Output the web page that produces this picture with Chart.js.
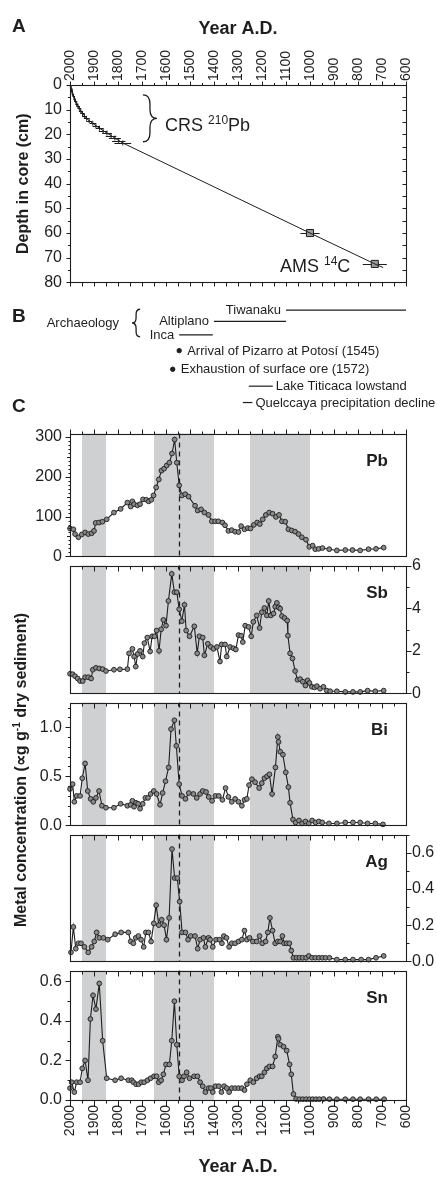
<!DOCTYPE html>
<html>
<head>
<meta charset="utf-8">
<script src="https://cdn.jsdelivr.net/npm/chart.js@4.4.1/dist/chart.umd.min.js"></script>
<style>
html,body{margin:0;padding:0;background:#fff}
body{position:relative;width:437px;height:1178px;overflow:hidden;font-family:'Liberation Sans',Arial,Helvetica,sans-serif;color:#1e1e1e}
canvas{position:absolute;left:0}
.letter{position:absolute;left:12px;font-weight:bold;font-size:19px;line-height:19px}
#ytitle{position:absolute;left:-154px;top:760px;width:350px;height:20px;line-height:20px;text-align:center;font-weight:bold;font-size:16px;transform:rotate(-90deg);white-space:nowrap}
#ytitle sup{font-size:10px;line-height:0;vertical-align:6px}
</style>
</head>
<body>
<canvas id="cA" width="437" height="300" style="top:0px"></canvas>
<canvas id="cB" width="437" height="120" style="top:296px"></canvas>
<canvas id="cPb" width="437" height="158" style="top:416px"></canvas>
<canvas id="cSb" width="437" height="159" style="top:550px"></canvas>
<canvas id="cBi" width="437" height="158" style="top:685px"></canvas>
<canvas id="cAg" width="437" height="158" style="top:819px"></canvas>
<canvas id="cSn" width="437" height="225" style="top:953px"></canvas>
<div class="letter" style="top:16px">A</div>
<div class="letter" style="top:306px">B</div>
<div class="letter" style="top:396px">C</div>
<div id="ytitle">Metal concentration (∝g g<sup>-1</sup> dry sediment)</div>
<script>
// ================= DATA =================
const yearTicks = [2000,1900,1800,1700,1600,1500,1400,1300,1200,1100,1000,900,800,700,600];
const depthTicks = [0,10,20,30,40,50,60,70,80];
const pbTicks = [0,100,200,300];
const sbTicks = [0,2,4,6];
const biTicks = [0,0.5,1.0];
const agTicks = [0,0.2,0.4,0.6];
const snTicks = [0,0.2,0.4,0.6];

// Panel A: age model
const pb210Depth = [0.5,1.5,2.5,3.5,4.5,5.5,6.5,7.5,8.5,9.5,10.5,11.5,12.5,13.5,14.5,15.5,16.5,17.5,18.5,19.5,20.5,21.5,22.5,23.5];
const pb210Year  = [1998,1995,1992,1989,1985,1981,1977,1972,1967,1961,1955,1948,1940,1931,1920,1905,1892,1877,1862,1846,1829,1813,1797,1780];
const pb210Err   = [3,3,4,4,5,5,6,6,7,7,8,9,10,11,12,13,14,16,18,20,22,25,28,35];
const c14Depth = [60,72.5];
const c14Year  = [1000,730];
const c14Err   = [40,50];
const modelTailYear  = [695];
const modelTailDepth = [74];

// Panel B
const periodNames = ['Tiwanaku','Altiplano','Inca'];
const periodStart = [1100,1400,1545];
const periodEnd   = [600,1100,1405];
const periodRow   = [0,1,2.2];
const eventNames = ['Arrival of Pizarro at Potosí (1545)','Exhaustion of surface ore (1572)'];
const eventYears = [1545,1572];
const eventRow   = [3.6,5.25];
const climateNames = ['Lake Titicaca lowstand','Quelccaya precipitation decline'];
const climateStart = [1255,1280];
const climateEnd   = [1155,1240];
const climateRow   = [6.75,8.2];

// Panel C
const bandStart = [1950,1650,1250];
const bandEnd   = [1850,1400,1000];
const pizarroYear = 1545;

const pbYears = [2000,1986,1979,1965,1951,1937,1924,1910,1900,1893,1879,1865,1847,1817,1789,1761,1747,1740,1733,1719,1708,1696,1682,1672,1661,1652,1641,1630,1619,1608,1597,1586,1575,1564,1555,1545,1534,1520,1506,1479,1468,1454,1440,1423,1409,1395,1382,1365,1354,1340,1326,1312,1298,1287,1273,1259,1248,1234,1220,1209,1197,1184,1170,1156,1142,1129,1117,1103,1090,1076,1062,1048,1034,1017,1003,989,978,964,948,920,888,853,823,791,756,725,693];
const pbValues = [70,68,56,48,55,60,56,58,64,84,85,87,93,110,119,135,125,138,131,128,131,143,142,138,142,153,173,193,215,220,228,235,258,293,235,178,153,156,150,127,115,118,110,104,88,88,88,85,78,64,66,62,61,76,68,71,70,79,85,81,93,104,110,107,99,104,88,87,68,65,62,56,48,42,24,27,18,19,21,18,15,16,16,15,18,19,22];

const sbYears = [2000,1989,1979,1968,1958,1947,1937,1924,1912,1905,1892,1878,1864,1850,1817,1792,1761,1754,1740,1733,1726,1718,1708,1697,1690,1678,1666,1658,1648,1639,1629,1620,1611,1600,1590,1576,1565,1555,1545,1534,1523,1516,1502,1482,1470,1461,1447,1440,1426,1413,1402,1388,1375,1368,1354,1347,1333,1319,1309,1298,1287,1280,1270,1256,1245,1236,1222,1210,1201,1190,1180,1172,1163,1152,1145,1138,1131,1124,1117,1106,1095,1092,1083,1073,1062,1052,1041,1030,1019,1010,1002,992,981,971,958,944,930,916,888,853,821,791,760,728,693];
const sbValues = [0.92,0.90,0.81,0.70,0.58,0.58,0.76,0.76,0.70,1.11,1.20,1.17,1.14,1.05,1.11,1.13,1.14,1.88,2.09,1.73,1.26,1.85,2.00,1.73,2.36,2.62,1.97,2.68,2.68,2.95,2.00,3.01,3.45,3.18,4.34,5.61,4.75,4.75,3.95,3.39,4.16,2.95,2.68,3.15,1.88,2.68,2.62,1.79,2.33,2.18,2.09,2.18,1.50,2.30,2.30,1.73,2.18,2.12,2.06,2.74,2.71,2.41,3.18,3.12,2.68,3.36,3.66,3.07,3.81,4.01,3.66,4.34,3.66,3.75,4.07,4.25,4.04,3.98,3.63,3.54,3.42,2.71,1.88,1.64,1.05,0.64,0.67,0.55,0.37,0.61,0.49,0.31,0.28,0.34,0.22,0.31,0.13,0.10,0.10,0.07,0.07,0.07,0.13,0.10,0.13];

const biYears = [2000,1989,1982,1972,1958,1949,1937,1926,1914,1903,1892,1879,1867,1850,1817,1789,1761,1747,1740,1733,1725,1716,1708,1697,1686,1675,1664,1651,1639,1625,1614,1602,1589,1579,1565,1557,1545,1533,1519,1505,1486,1472,1458,1447,1433,1422,1408,1394,1380,1365,1352,1340,1326,1312,1298,1284,1273,1263,1254,1242,1229,1212,1201,1190,1179,1169,1158,1144,1134,1131,1124,1113,1101,1090,1083,1071,1060,1046,1033,1019,1005,991,977,963,949,921,888,853,821,791,760,728,696];
const biValues = [0.37,0.42,0.24,0.30,0.30,0.48,0.63,0.35,0.27,0.24,0.28,0.35,0.20,0.18,0.18,0.22,0.20,0.21,0.25,0.19,0.23,0.22,0.17,0.22,0.28,0.28,0.32,0.35,0.32,0.21,0.33,0.45,0.59,0.98,1.07,0.81,0.42,0.30,0.27,0.33,0.32,0.28,0.32,0.35,0.34,0.29,0.25,0.30,0.30,0.26,0.38,0.29,0.24,0.27,0.24,0.20,0.26,0.27,0.41,0.47,0.44,0.38,0.43,0.48,0.50,0.52,0.32,0.59,0.90,0.85,0.75,0.72,0.54,0.39,0.23,0.06,0.03,0.05,0.02,0.04,0.02,0.05,0.03,0.04,0.03,0.02,0.02,0.03,0.03,0.03,0.02,0.02,0.01];

const agYears = [1996,1986,1976,1965,1954,1940,1924,1910,1899,1889,1878,1861,1843,1812,1787,1757,1747,1736,1726,1715,1704,1693,1684,1673,1662,1651,1641,1630,1618,1608,1598,1587,1575,1564,1553,1543,1533,1519,1508,1497,1479,1468,1458,1444,1436,1423,1416,1405,1391,1377,1367,1359,1348,1337,1326,1312,1298,1284,1273,1263,1252,1238,1222,1210,1199,1185,1176,1167,1156,1145,1134,1124,1115,1108,1097,1086,1078,1069,1056,1044,1031,1016,1005,992,978,963,949,935,919,888,853,821,787,756,725,693];
const agValues = [0.05,0.19,0.07,0.10,0.10,0.08,0.05,0.08,0.11,0.16,0.13,0.13,0.12,0.15,0.16,0.16,0.11,0.10,0.13,0.14,0.12,0.08,0.16,0.16,0.11,0.21,0.31,0.20,0.23,0.20,0.12,0.24,0.62,0.46,0.46,0.33,0.16,0.16,0.12,0.14,0.14,0.07,0.12,0.13,0.08,0.13,0.12,0.08,0.12,0.12,0.10,0.14,0.13,0.08,0.10,0.10,0.11,0.12,0.17,0.12,0.13,0.11,0.11,0.14,0.10,0.11,0.16,0.24,0.17,0.10,0.11,0.11,0.14,0.10,0.10,0.10,0.06,0.02,0.02,0.02,0.02,0.02,0.03,0.02,0.02,0.02,0.02,0.02,0.02,0.01,0.01,0.01,0.01,0.01,0.02,0.03];

const snYears = [2000,1993,1982,1972,1958,1949,1937,1925,1915,1904,1892,1878,1864,1847,1812,1787,1757,1743,1736,1725,1714,1703,1691,1677,1664,1650,1639,1630,1620,1611,1600,1586,1576,1565,1555,1545,1533,1525,1514,1502,1483,1469,1458,1447,1436,1423,1413,1405,1394,1380,1369,1358,1347,1337,1326,1312,1298,1284,1273,1263,1249,1236,1222,1210,1201,1190,1180,1169,1156,1145,1134,1131,1124,1110,1097,1085,1078,1069,1058,1044,1030,1016,1002,989,975,961,944,919,888,853,821,791,756,724,691];
const snValues = [0.06,0.09,0.04,0.09,0.09,0.16,0.20,0.10,0.41,0.53,0.46,0.59,0.30,0.11,0.10,0.11,0.10,0.10,0.09,0.08,0.08,0.09,0.09,0.10,0.11,0.12,0.12,0.09,0.10,0.13,0.18,0.18,0.30,0.50,0.28,0.12,0.10,0.12,0.14,0.11,0.12,0.12,0.09,0.07,0.04,0.06,0.06,0.04,0.07,0.07,0.04,0.07,0.06,0.04,0.06,0.06,0.06,0.06,0.05,0.08,0.10,0.09,0.11,0.12,0.12,0.14,0.16,0.17,0.17,0.22,0.32,0.31,0.28,0.27,0.25,0.18,0.13,0.03,0.005,0.004,0.004,0.004,0.004,0.004,0.004,0.004,0.005,0.004,0.004,0.004,0.004,0.004,0.004,0.004,0.004];

// ================= RENDERING =================
const INK = '#1e1e1e';
const FONT = "'Liberation Sans', Arial, Helvetica, sans-serif";
Chart.defaults.font.family = FONT;
Chart.defaults.color = INK;

const DECOR = {};
function xy(xs, ys){ return xs.map((x,i)=>({x:x, y:ys[i]})); }
function setTicks(arr){ return s => { s.ticks = arr.map(v=>({value:v})); }; }

function drawTicks(ctx, chart, t){
  const a = chart.chartArea, sc = chart.scales[t.scale];
  const minStep = Math.min(...t.levels.map(l=>l[0]));
  const lo = Math.min(sc.min, sc.max), hi = Math.max(sc.min, sc.max);
  const sgn = t.dir === 'out' ? 1 : -1;
  ctx.beginPath();
  for (let k = Math.ceil(lo/minStep - 1e-9); k*minStep <= hi + 1e-9; k++){
    const v = k*minStep; let L = 0;
    t.levels.forEach(([s,l]) => { const r = v/s; if (Math.abs(r-Math.round(r))<1e-6) L = Math.max(L,l); });
    if (!L) continue;
    const p = Math.round(sc.getPixelForValue(v)) + 0.5;
    if (t.edge==='top'){ const y=Math.round(a.top)+0.5; ctx.moveTo(p,y); ctx.lineTo(p,y - sgn*L); }
    else if (t.edge==='bottom'){ const y=Math.round(a.bottom)+0.5; ctx.moveTo(p,y); ctx.lineTo(p,y + sgn*L); }
    else if (t.edge==='left'){ const x=Math.round(a.left)+0.5; ctx.moveTo(x,p); ctx.lineTo(x - sgn*L,p); }
    else { const x=Math.round(a.right)+0.5; ctx.moveTo(x,p); ctx.lineTo(x + sgn*L,p); }
  }
  ctx.stroke();
}
function brace(ctx, xb, y1, y2, w){
  const m=(y1+y2)/2, h=w/2, r=Math.min(Math.abs(h)*1.3,(y2-y1)/4);
  ctx.beginPath(); ctx.moveTo(xb,y1);
  ctx.quadraticCurveTo(xb+h,y1,xb+h,y1+r); ctx.lineTo(xb+h,m-r);
  ctx.quadraticCurveTo(xb+h,m,xb+w,m); ctx.quadraticCurveTo(xb+h,m,xb+h,m+r);
  ctx.lineTo(xb+h,y2-r); ctx.quadraticCurveTo(xb+h,y2,xb,y2); ctx.stroke();
}

const decorPlugin = {
  id:'decor',
  beforeDatasetsDraw(chart){
    const o = DECOR[chart.canvas.id]; if (!o) return;
    const {ctx, chartArea:a, scales} = chart; const xs = scales.x;
    ctx.save();
    if (o.bands){
      ctx.fillStyle = '#cfd0d2';
      o.bands.start.forEach((s,i)=>{ const x1=xs.getPixelForValue(s), x2=xs.getPixelForValue(o.bands.end[i]); ctx.fillRect(Math.min(x1,x2), a.top, Math.abs(x2-x1), a.bottom-a.top); });
    }
    if (o.vline != null){
      const x = Math.round(xs.getPixelForValue(o.vline))+0.5;
      ctx.strokeStyle = INK; ctx.lineWidth = 1.3; ctx.setLineDash([5,4]);
      ctx.beginPath(); ctx.moveTo(x,a.top); ctx.lineTo(x,a.bottom); ctx.stroke(); ctx.setLineDash([]);
    }
    chart.data.datasets.forEach((ds,i)=>{
      if (!ds.xErr) return;
      const meta = chart.getDatasetMeta(i);
      ctx.strokeStyle = INK; ctx.lineWidth = 1;
      ds.xErr.forEach((e,j)=>{
        const raw = ds.data[j], pt = meta.data[j];
        const x1 = xs.getPixelForValue(raw.x+e), x2 = xs.getPixelForValue(raw.x-e);
        const y = Math.round(pt.y)+0.5;
        ctx.beginPath(); ctx.moveTo(x1,y); ctx.lineTo(x2,y); ctx.stroke();
      });
    });
    ctx.restore();
  },
  afterDatasetsDraw(chart){
    const o = DECOR[chart.canvas.id]; if (!o) return;
    const {ctx, chartArea:a, scales} = chart; const xs = scales.x, ys = scales.y;
    ctx.save();
    ctx.strokeStyle = INK; ctx.fillStyle = INK; ctx.lineWidth = 1.1;
    if (o.frame){
      const l=Math.round(a.left)+0.5, t=Math.round(a.top)+0.5;
      ctx.strokeRect(l, t, Math.round(a.right)-Math.round(a.left), Math.round(a.bottom)-Math.round(a.top));
    }
    ctx.lineWidth = 1;
    (o.ticks||[]).forEach(t=>drawTicks(ctx, chart, t));
    if (o.topLabels){
      ctx.font = '14px '+FONT; ctx.textAlign='left'; ctx.textBaseline='middle';
      o.topLabels.forEach(v=>{
        ctx.save(); ctx.translate(xs.getPixelForValue(v), a.top-4); ctx.rotate(-Math.PI/2);
        ctx.fillText(String(v), 0, 0); ctx.restore();
      });
    }
    if (o.label){
      ctx.font = 'bold 17px ' + FONT; ctx.textAlign='right'; ctx.textBaseline='alphabetic';
      ctx.fillText(o.label, a.right-18, a.top+32);
    }
    (o.braces||[]).forEach(b=>{ ctx.lineWidth=1.3; brace(ctx, xs.getPixelForValue(b.x), ys.getPixelForValue(b.y1), ys.getPixelForValue(b.y2), b.w); });
    (o.texts||[]).forEach(t=>{
      ctx.font = t.size+'px '+FONT; ctx.textAlign=t.align||'left'; ctx.textBaseline='alphabetic';
      ctx.fillText(t.text, xs.getPixelForValue(t.x), ys.getPixelForValue(t.y));
    });
    (o.rich||[]).forEach(r=>{
      let cx = xs.getPixelForValue(r.x); const y = ys.getPixelForValue(r.y);
      ctx.textAlign='left'; ctx.textBaseline='alphabetic';
      r.parts.forEach(([t,size,rise])=>{ ctx.font = size+'px '+FONT; ctx.fillText(t, cx, y-(rise||0)); cx += ctx.measureText(t).width; });
    });
    chart.data.datasets.forEach((ds,i)=>{
      if (!ds.labelText) return;
      const pts = chart.getDatasetMeta(i).data; const px = pts.map(p=>p.x);
      ctx.font = '13px '+FONT; ctx.textBaseline='alphabetic';
      if (ds.labelSide==='before'){ ctx.textAlign='right'; ctx.fillText(ds.labelText, Math.min(...px)-ds.labelGap, pts[0].y+4); }
      else { ctx.textAlign='left'; ctx.fillText(ds.labelText, Math.max(...px)+ds.labelGap, pts[0].y+4); }
    });
    ctx.restore();
  }
};
Chart.register(decorPlugin);

const baseOpts = () => ({responsive:false, animation:false, events:[], plugins:{legend:{display:false}, tooltip:{enabled:false}}});
const noGrid = {display:false, drawTicks:false};

// ---------- Panel A ----------
DECOR.cA = {
  frame:true,
  topLabels: yearTicks,
  ticks:[
    {scale:'x', edge:'top', dir:'out', levels:[[50,2.5],[100,4]]},
    {scale:'x', edge:'bottom', dir:'out', levels:[[50,4]]},
    {scale:'y', edge:'left', dir:'out', levels:[[5,2.5],[10,4]]},
    {scale:'y', edge:'right', dir:'in', levels:[[5,4]]}
  ],
  braces:[{x:1696, y1:4, y2:23, w:14}],
  rich:[
    {x:1604, y:18.5, parts:[['CRS ',18],['210',12,7],['Pb',18]]},
    {x:1125, y:75.9, parts:[['AMS ',18],['14',12,7],['C',18]]}
  ]
};
new Chart(document.getElementById('cA'), {
  type:'line',
  data:{datasets:[
    {data: xy([...pb210Year, ...c14Year, ...modelTailYear], [...pb210Depth, ...c14Depth, ...modelTailDepth]), borderColor:INK, borderWidth:1, pointRadius:0, tension:0, clip:8},
    {data: xy(pb210Year, pb210Depth), xErr: pb210Err, showLine:false, pointStyle:'line', pointRotation:90, pointRadius:2.5, pointBorderColor:INK, pointBorderWidth:1, borderColor:INK, clip:8},
    {data: xy(c14Year, c14Depth), xErr: c14Err, showLine:false, pointStyle:'rect', pointRadius:5, pointBackgroundColor:'#9a9a9a', pointBorderColor:INK, pointBorderWidth:1, clip:8}
  ]},
  options: Object.assign(baseOpts(), {
    layout:{padding:{top:0, bottom:13, left:0, right:31}},
    scales:{
      x:{type:'linear', position:'top', min:600, max:2000, reverse:true,
         afterBuildTicks:setTicks(yearTicks), afterFit:s=>{s.height=85;},
         ticks:{display:false},
         grid:noGrid, border:{display:false},
         title:{display:true, text:'Year A.D.', font:{size:18, weight:'bold'}, padding:{top:18, bottom:0}}},
      y:{type:'linear', position:'left', min:0, max:80, reverse:true,
         afterBuildTicks:setTicks(depthTicks), afterFit:s=>{s.width=70;},
         ticks:{padding:8, font:{size:16}, callback:v=>String(v)},
         grid:noGrid, border:{display:false},
         title:{display:true, text:'Depth in core (cm)', font:{size:16, weight:'bold'}, padding:{top:14, bottom:0}}}
    }
  })
});

// ---------- Panel B ----------
const dsB = [];
periodNames.forEach((n,i)=>dsB.push({data: xy([periodStart[i], periodEnd[i]], [periodRow[i], periodRow[i]]), borderColor:INK, borderWidth:1.2, pointRadius:0, showLine:true, labelText:n, labelSide:'before', labelGap:5}));
eventNames.forEach((n,i)=>dsB.push({data: xy([eventYears[i]], [eventRow[i]]), showLine:false, pointRadius:2.2, pointBackgroundColor:INK, pointBorderColor:INK, labelText:n, labelSide:'after', labelGap:8}));
climateNames.forEach((n,i)=>dsB.push({data: xy([climateStart[i], climateEnd[i]], [climateRow[i], climateRow[i]]), borderColor:INK, borderWidth:1.2, pointRadius:0, showLine:true, labelText:n, labelSide:'after', labelGap:3}));
DECOR.cB = {
  texts:[{x:1796, y:1.47, text:'Archaeology', align:'right', size:13}],
  braces:[{x:1708, y1:-0.07, y2:2.37, w:-8}]
};
new Chart(document.getElementById('cB'), {
  type:'line',
  data:{datasets:dsB},
  options: Object.assign(baseOpts(), {
    layout:{padding:{top:0, bottom:0, left:70, right:31}},
    scales:{
      x:{type:'linear', min:600, max:2000, reverse:true, display:false},
      y:{type:'linear', min:-0.8, max:8.95, reverse:true, display:false}
    }
  })
});

// ---------- Panel C ----------
function metalPanel(id, years, values, cfg){
  const left = cfg.side === 'left';
  const bottom = !!cfg.bottom;
  const tk = [{scale:'x', edge:'top', dir: cfg.topOut ? 'out' : 'in', levels:[[50,3],[100,5]]},
              {scale:'y', edge: cfg.side, dir:'out', levels: cfg.yLevels}];
  if (bottom) tk.push({scale:'x', edge:'bottom', dir:'out', levels:[[50,3],[100,6]]});
  DECOR[id] = {bands:{start:bandStart, end:bandEnd}, vline:pizarroYear, frame:true, label:cfg.label, ticks:tk};
  return new Chart(document.getElementById(id), {
    type:'line',
    data:{datasets:[{data: xy(years, values), borderColor:INK, borderWidth:1.1, pointRadius:2.4, pointBackgroundColor:'#888888', pointBorderColor:INK, pointBorderWidth:0.9, tension:0, clip:8}]},
    options: Object.assign(baseOpts(), {
      layout:{padding:{top:12, bottom: bottom?0:12, left: left?0:70, right: left?31:0}},
      scales:{
        x:{type:'linear', min:600, max:2000, reverse:true, display:bottom, position:'bottom',
           afterBuildTicks:setTicks(yearTicks), afterFit:s=>{ if (bottom) s.height=78; },
           ticks:{autoSkip:false, minRotation:90, maxRotation:90, padding:5, font:{size:14}, callback:v=>String(v)},
           grid:noGrid, border:{display:false},
           title:{display:true, text:'Year A.D.', font:{size:18, weight:'bold'}, padding:{top:0, bottom:0}}},
        y:{type:'linear', position:cfg.side, min:0, max:cfg.max,
           afterBuildTicks:setTicks(cfg.ticks), afterFit:s=>{s.width = left?70:31;},
           ticks:{padding: left?8:6, font:{size:16}, callback:v=>Number(v).toFixed(cfg.dec)},
           grid:noGrid, border:{display:false}}
      }
    })
  });
}
metalPanel('cPb', pbYears, pbValues, {label:'Pb', side:'left', max:308, ticks:pbTicks, dec:0, topOut:true, yLevels:[[10,2],[50,3.5],[100,5]]});
metalPanel('cSb', sbYears, sbValues, {label:'Sb', side:'right', max:6, ticks:sbTicks, dec:0, yLevels:[[1,3],[2,5]]});
metalPanel('cBi', biYears, biValues, {label:'Bi', side:'left', max:1.25, ticks:biTicks, dec:1, yLevels:[[0.1,2.5],[0.5,5]]});
metalPanel('cAg', agYears, agValues, {label:'Ag', side:'right', max:0.70, ticks:agTicks, dec:1, yLevels:[[0.1,3],[0.2,5]]});
metalPanel('cSn', snYears, snValues, {label:'Sn', side:'left', max:0.655, ticks:snTicks, dec:1, bottom:true, yLevels:[[0.1,3],[0.2,5]]});
</script>
</body>
</html>
